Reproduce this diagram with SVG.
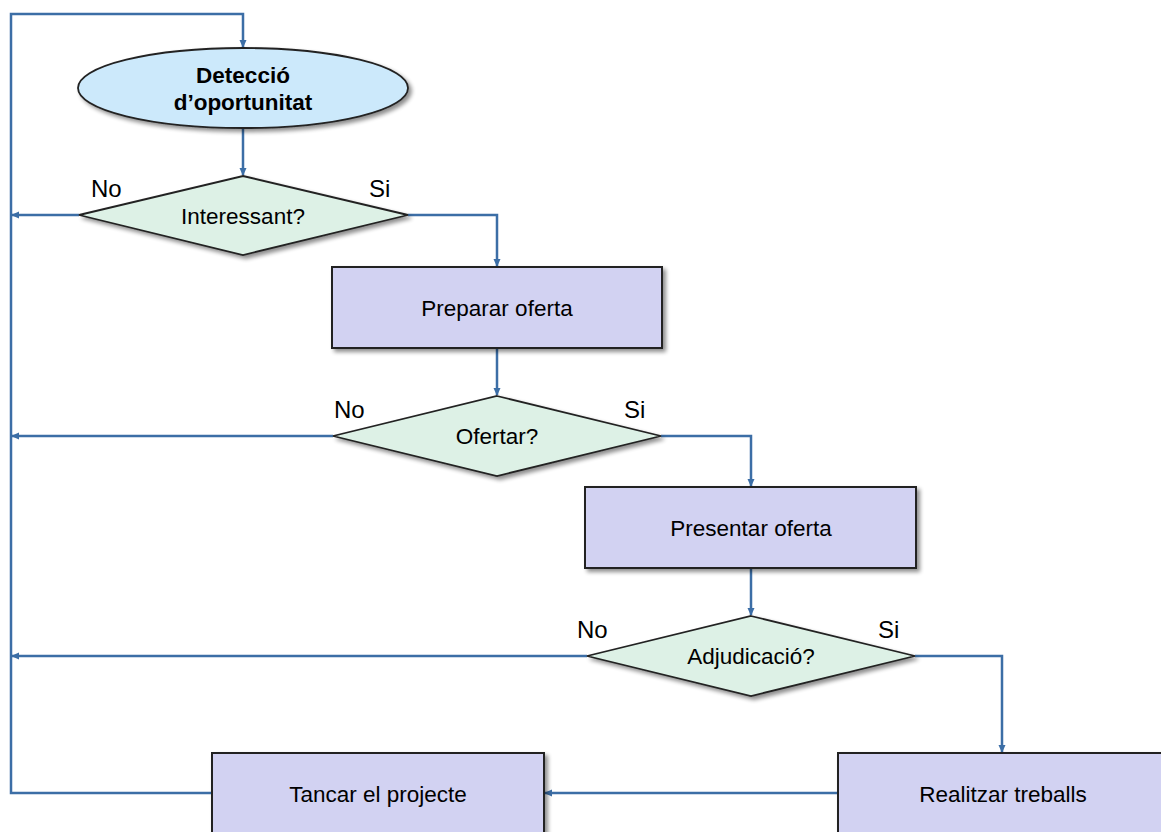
<svg xmlns="http://www.w3.org/2000/svg" width="1161" height="832" viewBox="0 0 1161 832">
<style>
.ln{fill:none;stroke:#3c6ea6;stroke-width:2.5}
.rect{fill:#d2d2f2;stroke:#222;stroke-width:2}
.dia{fill:#ddf1e6;stroke:#222;stroke-width:1.8}
.ell{fill:#cce9fb;stroke:#222;stroke-width:1.8}
.t{font-family:"Liberation Sans",Arial,sans-serif;font-size:22.5px;fill:#000;text-anchor:middle}
.lb{font-family:"Liberation Sans",Arial,sans-serif;font-size:24px;fill:#000}
</style>
<defs>
<marker id="ah" markerWidth="8" markerHeight="8" refX="7" refY="4" orient="auto" markerUnits="userSpaceOnUse">
<path d="M0,0.5 L8,4 L0,7.5 z" fill="#3c6ea6"/>
</marker>
<filter id="sh" x="-10%" y="-10%" width="130%" height="130%">
<feGaussianBlur in="SourceAlpha" stdDeviation="2"/>
<feOffset dx="3" dy="3" result="b"/>
<feComponentTransfer><feFuncA type="linear" slope="0.45"/></feComponentTransfer>
<feMerge><feMergeNode/><feMergeNode in="SourceGraphic"/></feMerge>
</filter>
</defs>
<rect width="1161" height="832" fill="#fff"/>
<g id="connectors">
<path class="ln" d="M212,793 H11 V14 H243 V47" marker-end="url(#ah)"/>
<path class="ln" d="M243,128 V175" marker-end="url(#ah)"/>
<path class="ln" d="M79,215 H12" marker-end="url(#ah)"/>
<path class="ln" d="M408,215 H497 V266" marker-end="url(#ah)"/>
<path class="ln" d="M497,348 V395" marker-end="url(#ah)"/>
<path class="ln" d="M333,436 H12" marker-end="url(#ah)"/>
<path class="ln" d="M661,436 H751 V486" marker-end="url(#ah)"/>
<path class="ln" d="M751,568 V615" marker-end="url(#ah)"/>
<path class="ln" d="M587,656 H12" marker-end="url(#ah)"/>
<path class="ln" d="M915,656 H1002 V752" marker-end="url(#ah)"/>
<path class="ln" d="M838,793 H545" marker-end="url(#ah)"/>
</g>
<g id="detectio">
<ellipse class="ell" cx="243" cy="88" rx="165" ry="40" filter="url(#sh)"/>
<text class="t" x="243" y="83" font-weight="bold">Detecció</text>
<text class="t" x="243" y="110" font-weight="bold">d’oportunitat</text>
</g>
<g id="interessant">
<polygon class="dia" points="243,176 408,215 243,255 79,215" filter="url(#sh)"/>
<text class="t" x="243" y="224">Interessant?</text>
<text class="lb" x="91" y="197">No</text>
<text class="lb" x="369" y="197">Si</text>
</g>
<g id="preparar">
<rect class="rect" x="332" y="267" width="330" height="81" filter="url(#sh)"/>
<text class="t" x="497" y="316">Preparar oferta</text>
</g>
<g id="ofertar">
<polygon class="dia" points="497,396 661,436 497,476 333,436" filter="url(#sh)"/>
<text class="t" x="497" y="444">Ofertar?</text>
<text class="lb" x="334" y="418">No</text>
<text class="lb" x="624" y="418">Si</text>
</g>
<g id="presentar">
<rect class="rect" x="585" y="487" width="331" height="81" filter="url(#sh)"/>
<text class="t" x="751" y="536">Presentar oferta</text>
</g>
<g id="adjudicacio">
<polygon class="dia" points="751,616 915,656 751,696 587,656" filter="url(#sh)"/>
<text class="t" x="751" y="664">Adjudicació?</text>
<text class="lb" x="577" y="638">No</text>
<text class="lb" x="878" y="638">Si</text>
</g>
<g id="tancar">
<rect class="rect" x="212" y="753" width="332" height="90" filter="url(#sh)"/>
<text class="t" x="378" y="802">Tancar el projecte</text>
</g>
<g id="realitzar">
<rect class="rect" x="838" y="753" width="340" height="90" filter="url(#sh)"/>
<text class="t" x="1003" y="802">Realitzar treballs</text>
</g>
</svg>
